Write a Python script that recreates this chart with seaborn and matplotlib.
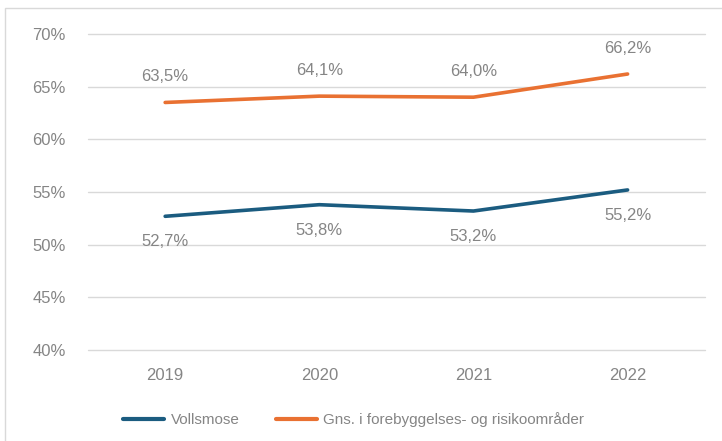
import pandas as pd
import seaborn as sns
import matplotlib.pyplot as plt
from matplotlib.patches import Rectangle
from matplotlib.ticker import FuncFormatter

# Data
years = ["2019", "2020", "2021", "2022"]
vollsmose = [52.7, 53.8, 53.2, 55.2]
gns = [63.5, 64.1, 64.0, 66.2]
series_names = ["Vollsmose", "Gns. i forebyggelses- og risikoområder"]
colors = ["#1B5C80", "#E97132"]

df = pd.DataFrame({
    "year": years * 2,
    "value": vollsmose + gns,
    "series": [series_names[0]] * 4 + [series_names[1]] * 4,
})
df["x"] = df["year"].map({y: i for i, y in enumerate(years)})

sns.set_style("white")
plt.rcParams["font.family"] = ["Liberation Sans", "DejaVu Sans"]
text_col = "#858585"

fig = plt.figure(figsize=(7.22, 4.41), dpi=100)
ax = fig.add_axes([0.122, 0.206, 0.854, 0.717])

sns.lineplot(data=df, x="x", y="value", hue="series", palette=colors,
             linewidth=2.6, ax=ax, legend=False)

# data labels: orange above, blue below
for i, v in enumerate(gns):
    ax.annotate(f"{v:.1f}%".replace(".", ","), (i, v), xytext=(0, 13),
                textcoords="offset points", ha="center", va="bottom",
                fontsize=12, color=text_col)
for i, v in enumerate(vollsmose):
    ax.annotate(f"{v:.1f}%".replace(".", ","), (i, v), xytext=(0, -13),
                textcoords="offset points", ha="center", va="top",
                fontsize=12, color=text_col)

ax.set_xlim(-0.5, 3.5)
ax.set_ylim(40, 70)
ax.set_yticks(range(40, 71, 5))
ax.yaxis.set_major_formatter(FuncFormatter(lambda v, p: f"{v:.0f}%"))
ax.set_xticks(range(4))
ax.set_xticklabels(years)
ax.grid(axis="y", color="#D9D9D9", linewidth=1)
ax.set_axisbelow(True)
for line in ax.get_ygridlines():
    line.set_clip_on(False)
for s in ax.spines.values():
    s.set_visible(False)
ax.tick_params(axis="both", length=0, labelsize=12, labelcolor=text_col)
ax.tick_params(axis="x", pad=13)
ax.tick_params(axis="y", pad=16)
ax.set_xlabel("")
ax.set_ylabel("")

# legend
handles = [plt.Line2D([], [], color=c, linewidth=3) for c in colors]
fig.legend(handles, series_names, loc="center", bbox_to_anchor=(0.49, 0.048),
           ncol=2, frameon=False, fontsize=11, handlelength=2.7,
           handletextpad=0.4, columnspacing=2.4, labelcolor=text_col)

# light border around chart
fig.patches.append(Rectangle((5 / 722, -0.1), 1.2, 1 - 8 / 441 + 0.1,
                             transform=fig.transFigure, fill=False,
                             edgecolor="#D9D9D9", linewidth=1))

fig.savefig("out.png", dpi=100)
